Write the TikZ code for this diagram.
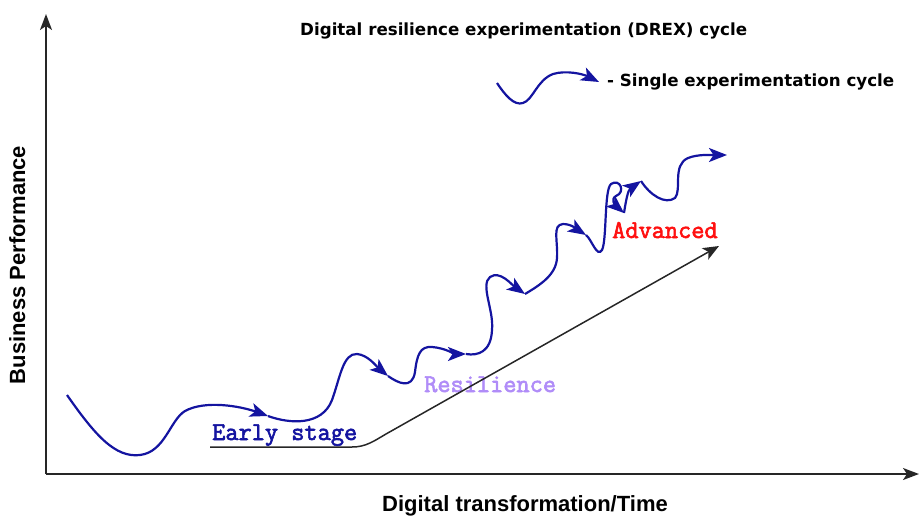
\documentclass[tikz,border=0pt]{standalone}
\usepackage{fontspec}
\setmainfont{Liberation Sans}
\newfontfamily\axisfont{Liberation Sans}
\newfontfamily\notefont{DejaVu Sans}
\newfontfamily\stagefont[FakeBold=2.4]{Latin Modern Mono}
\usetikzlibrary{arrows.meta}
\definecolor{drexblue}{HTML}{1414A0}
\definecolor{resviolet}{HTML}{B08CF8}
\definecolor{advred}{HTML}{FF1010}
\begin{document}
\begin{tikzpicture}[x=1pt,y=-1pt,
  axisline/.style={line width=1.8pt, draw=black!85, -{Stealth[length=16pt,width=12pt,inset=4pt]}},
  trendline/.style={line width=1.5pt, draw=black!85, -{Stealth[length=16pt,width=13pt,inset=4pt]}},
  drexstep/.style={line width=2.2pt, draw=drexblue, -{Stealth[length=18pt,width=14pt,inset=4.5pt]}},
  axislabel/.style={inner sep=0pt, font=\axisfont\bfseries\fontsize{22}{24}\selectfont},
  notelabel/.style={inner sep=0pt, anchor=base west, font=\notefont\bfseries\fontsize{16.7}{19}\selectfont},
  stagelabel/.style={inner sep=0pt, anchor=base west, font=\stagefont\fontsize{25.6}{27}\selectfont}]
\useasboundingbox (0,0) rectangle (920,515);

% axes
\coordinate (origin) at (46,474);
\coordinate (ytop) at (46,14);
\coordinate (xend) at (919,474);
\draw[axisline] (origin) -- (ytop);
\draw[axisline] (origin) -- (xend);

\node[axislabel, rotate=90, anchor=base] (ylab) at (25,265) {Business Performance};
\node[axislabel, anchor=base] (xlab) at (525,511) {Digital transformation/Time};

% title and legend
\node[notelabel] (title) at (300,35) {Digital resilience experimentation (DREX) cycle};
\coordinate (lg0) at (497,83);
\coordinate (lg1) at (599,82);
\draw[drexstep] (lg0) .. controls (505,95) and (514,106) .. (523,103)
  .. controls (533,100) and (537,80) .. (553,74)
  .. controls (566,70) and (583,74) .. (lg1);
\node[notelabel] (legend) at (607,86.5) {- Single experimentation cycle};

% stage labels
\node[stagelabel, text=drexblue] (early) at (212,440) {Early stage};
\node[stagelabel, text=resviolet] (resil) at (424,392) {Resilience};
\node[stagelabel, text=advred] (adv) at (612,238) {Advanced};

% overall trend
\coordinate (t0) at (210,447);
\coordinate (t1) at (352,447);
\coordinate (t2) at (386,434);
\coordinate (t3) at (719,246);
\draw[trendline] (t0) -- (t1) .. controls (366,447) and (374,441) .. (t2) -- (t3);

% chain of experimentation cycles
\coordinate (c0) at (67,395);
\coordinate (c1) at (268,416);
\coordinate (c2) at (388,376);
\coordinate (c3) at (466,354);
\coordinate (c4) at (525,294);
\coordinate (c5) at (586,235);
\coordinate (c6) at (624,213);
\coordinate (c7) at (641,181);
\coordinate (c8) at (727,155);

\draw[drexstep] (c0) .. controls (95,435) and (115,458) .. (140,455)
  .. controls (165,452) and (170,420) .. (185,411)
  .. controls (205,400) and (240,406) .. (c1);
\draw[drexstep] (c1) .. controls (290,424) and (322,426) .. (332,400)
  .. controls (340,378) and (343,353) .. (357,354)
  .. controls (368,355) and (376,366) .. (c2);
\draw[drexstep] (c2) .. controls (398,383) and (412,390) .. (415,372)
  .. controls (417,355) and (420,346) .. (432,347)
  .. controls (445,348) and (455,354) .. (c3);
\draw[drexstep] (c3) .. controls (478,356) and (491,352) .. (492,330)
  .. controls (494,310) and (480,285) .. (490,277)
  .. controls (500,270) and (512,285) .. (c4);
\draw[drexstep] (c4) .. controls (540,285) and (556,275) .. (557,258)
  .. controls (558,240) and (552,225) .. (563,224)
  .. controls (572,224) and (578,230) .. (c5);
\draw[drexstep] (c5) .. controls (592,240) and (597,258) .. (602,250)
  .. controls (607,240) and (604,190) .. (611,184)
  .. controls (620,178) and (626,192) .. (616,196)
  .. controls (610,199) and (616,206) .. (c6);
\draw[drexstep] (c6) .. controls (626,200) and (628,190) .. (c7);
\draw[drexstep] (c7) .. controls (650,195) and (665,205) .. (675,198)
  .. controls (682,190) and (672,165) .. (688,158)
  .. controls (698,154) and (712,155) .. (c8);
\end{tikzpicture}
\end{document}
